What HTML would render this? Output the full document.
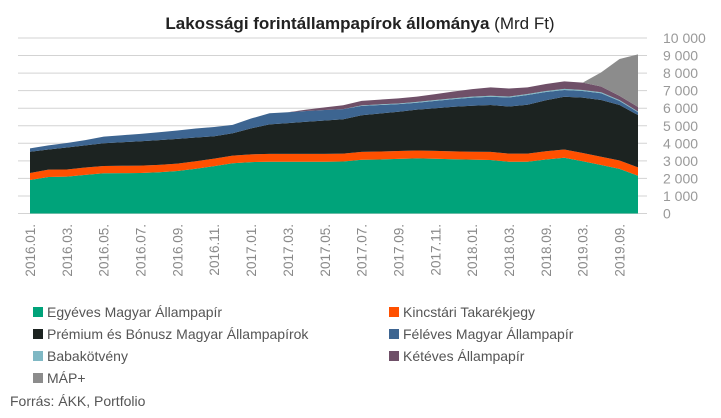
<!DOCTYPE html>
<html><head><meta charset="utf-8"><style>
body{margin:0;background:#fff;font-family:"Liberation Sans",sans-serif}
svg{display:block}
</style></head><body>
<svg id="chart" width="721" height="418" viewBox="0 0 721 418" xmlns="http://www.w3.org/2000/svg">
<text x="360" y="29" text-anchor="middle" font-size="17" fill="#222"><tspan font-weight="bold">Lakossági forintállampapírok állománya</tspan> (Mrd Ft)</text>
<g id="grid"></g>
<g id="areas"></g>
<g id="yaxis"></g>
<g id="xaxis"></g>
<g id="legend"></g>
<text x="10" y="406" font-size="14" fill="#555">Forrás: ÁKK, Portfolio</text>
</svg>
<script>
const categories=["2016.01.","2016.02.","2016.03.","2016.04.","2016.05.","2016.06.","2016.07.","2016.08.","2016.09.","2016.10.","2016.11.","2016.12.","2017.01.","2017.02.","2017.03.","2017.04.","2017.05.","2017.06.","2017.07.","2017.08.","2017.09.","2017.10.","2017.11.","2017.12.","2018.01.","2018.02.","2018.03.","2018.06.","2018.09.","2018.12.","2019.03.","2019.06.","2019.09.","2019.12."];
const xLabelIdx=[0,2,4,6,8,10,12,14,16,18,20,22,24,26,28,30,32];
const egyeves=[1910,2080,2100,2200,2290,2300,2310,2350,2420,2550,2700,2860,2930,2950,2950,2950,2950,2960,3060,3080,3110,3140,3120,3090,3070,3050,2950,2950,3080,3180,2980,2760,2540,2150];
const kincstari=[400,420,410,420,420,420,420,420,420,430,430,440,440,450,450,450,450,450,450,450,450,450,450,450,450,460,460,460,470,470,470,470,480,480];
const premium=[1210,1150,1250,1260,1290,1340,1390,1410,1410,1350,1270,1270,1480,1680,1750,1830,1900,1960,2090,2170,2240,2330,2430,2540,2620,2670,2690,2790,2900,3000,3150,3240,3160,2980];
const feleves=[190,230,260,300,380,400,420,450,480,510,530,480,560,630,620,610,600,580,530,480,430,390,420,440,460,470,510,550,470,390,380,380,230,160];
const babak=[0,0,0,0,0,0,0,0,0,0,0,0,0,0,0,0,0,0,30,40,40,50,50,50,60,60,60,60,60,60,60,60,50,40];
const keteves=[0,0,0,0,0,0,0,0,0,0,0,0,0,0,0,80,150,220,260,270,290,300,330,380,430,480,450,380,400,430,420,330,240,260];
const mapplus=[0,0,0,0,0,0,0,0,0,0,0,0,0,0,0,0,0,0,0,0,0,0,0,0,0,0,0,0,0,0,0,800,2100,3000];
const yTicks=[0,1000,2000,3000,4000,5000,6000,7000,8000,9000,10000];
const yTickLabels=["0","1 000","2 000","3 000","4 000","5 000","6 000","7 000","8 000","9 000","10 000"];
const seriesNames=["Egyéves Magyar Állampapír","Kincstári Takarékjegy","Prémium és Bónusz Magyar Állampapírok","Féléves Magyar Állampapír","Babakötvény","Kétéves Állampapír","MÁP+"];

const NS="http://www.w3.org/2000/svg";
const X0=30,X1=638,Y0=213.5,Y1=38;
function xs(i){return X0+i*(X1-X0)/(categories.length-1);}
function ys(v){return Y0-(v/10000)*(Y0-Y1);}
function mk(tag,attrs,parent){const e=document.createElementNS(NS,tag);for(const k in attrs)e.setAttribute(k,attrs[k]);parent.appendChild(e);return e;}

const grid=document.getElementById('grid'),yaxis=document.getElementById('yaxis');
yTicks.forEach((t,i)=>{
  const l=mk('line',{x1:18,x2:647,y1:ys(t),y2:ys(t),stroke:'#d3d3d3','stroke-width':1},grid);
  
  
  const tx=mk('text',{x:663,y:ys(t)+5,'font-size':14,fill:'#999'},yaxis);
  tx.textContent=yTickLabels[i];
  
  
});

const series=[egyeves,kincstari,premium,feleves,babak,keteves,mapplus];
const colors=["#00A37A","#FF5000","#1C2321","#3D6591","#7FB8C4","#6F5068","#8C8C8C"];
const slugs=["area-egyeves","area-kincstari","area-premium","area-feleves","area-babakotveny","area-keteves","area-map-plus"];
const areas=document.getElementById('areas');
let base=categories.map(()=>0);
series.forEach((s,k)=>{
  const top=base.map((b,i)=>b+s[i]);
  let d='';
  top.forEach((v,i)=>{d+=(i?'L':'M')+xs(i).toFixed(2)+','+ys(v).toFixed(2);});
  for(let i=base.length-1;i>=0;i--)d+='L'+xs(i).toFixed(2)+','+ys(base[i]).toFixed(2);
  d+='Z';
  const p=mk('path',{d:d,fill:colors[k]},areas);
  
  
  base=top;
});

const xaxis=document.getElementById('xaxis');
xLabelIdx.forEach(i=>{
  const x=xs(i)+5;
  const t=mk('text',{transform:`translate(${x.toFixed(2)},224) rotate(-90)`,'text-anchor':'end','font-size':13.5,fill:'#8a8a8a'},xaxis);
  t.textContent=categories[i];
  
  
});

const legend=document.getElementById('legend');
const legendPos=[[33,317],[389,317],[33,339],[389,339],[33,361],[389,361],[33,383]];
seriesNames.forEach((n,k)=>{
  const [x,y]=legendPos[k];
  const g=mk('g',{},legend);
  
  
  const r=mk('rect',{x:x,y:y-10,width:10,height:10,fill:colors[k]},g);
  
  
  const t=mk('text',{x:x+14,y:y,'font-size':14,fill:'#555'},g);
  t.textContent=n;
  
  
});
</script>
</body></html>
